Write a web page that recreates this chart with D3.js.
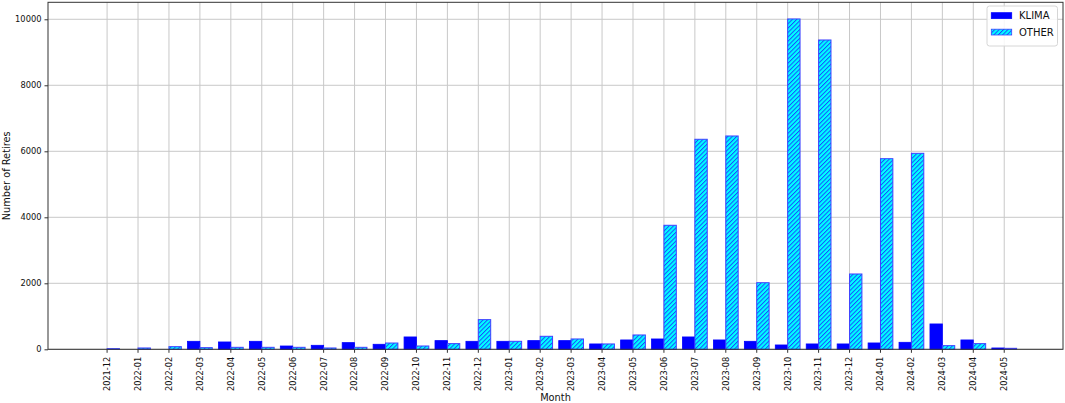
<!DOCTYPE html>
<html><head><meta charset="utf-8">
<script src="https://cdn.jsdelivr.net/npm/d3@7"></script>
<style>body{margin:0;background:#fff}svg{display:block;font-family:"DejaVu Sans",sans-serif}</style>
</head><body><svg id="c" width="1065" height="403"></svg>
<script>
const months = ["2021-12","2022-01","2022-02","2022-03","2022-04","2022-05","2022-06","2022-07","2022-08","2022-09","2022-10","2022-11","2022-12","2023-01","2023-02","2023-03","2023-04","2023-05","2023-06","2023-07","2023-08","2023-09","2023-10","2023-11","2023-12","2024-01","2024-02","2024-03","2024-04","2024-05"];
const klima = [0,0,0,242,222,242,100,121,202,152,374,263,242,242,263,263,162,283,313,374,283,242,131,162,162,192,212,768,283,40];
const other = [20,40,80,50,60,60,60,40,60,190,100,172,899,242,394,313,162,434,3758,6364,6464,2018,10010,9373,2282,5776,5939,111,172,30];
const yTicks = [0,2000,4000,6000,8000,10000];

const svg = d3.select("#c");
const L=48, R=1063, T=2.3, B=349.3;
const x = d3.scaleLinear().domain([-1.91, 30.9]).range([L, R]);
const y = d3.scaleLinear().domain([0, 10515]).range([B, T]);
const bw = x(0.4) - x(0);

const defs = svg.append("defs");
const P = 3.1;
const pat = defs.append("pattern").attr("id","hatch").attr("patternUnits","userSpaceOnUse")
  .attr("width",P).attr("height",P).attr("patternTransform","rotate(45)");
pat.append("rect").attr("width",P).attr("height",P).attr("fill","#00ffff");
pat.append("line").attr("x1",0.5).attr("y1",0).attr("x2",0.5).attr("y2",P).attr("stroke","#1a3cff").attr("stroke-width",0.9);

// grid
const g = svg.append("g");
g.selectAll(".gx").data(months).join("line")
  .attr("x1",(d,i)=>x(i)).attr("x2",(d,i)=>x(i)).attr("y1",T).attr("y2",B)
  .attr("stroke","#c8c8c8").attr("stroke-width",1);
g.selectAll(".gy").data(yTicks).join("line")
  .attr("x1",L).attr("x2",R).attr("y1",d=>y(d)).attr("y2",d=>y(d))
  .attr("stroke","#c8c8c8").attr("stroke-width",1);

// bars
svg.append("g").selectAll("rect").data(klima).join("rect")
  .attr("x",(d,i)=>x(i-0.4)).attr("width",bw)
  .attr("y",d=>y(d)).attr("height",d=>B-y(d))
  .attr("fill","#0000ff").attr("stroke","#0000ff").attr("stroke-width",0.8);
svg.append("g").selectAll("rect").data(other).join("rect")
  .attr("x",(d,i)=>x(i)).attr("width",bw)
  .attr("y",d=>y(d)).attr("height",d=>B-y(d))
  .attr("fill","url(#hatch)").attr("stroke","#4040ff").attr("stroke-width",1);

// frame
svg.append("rect").attr("x",L).attr("y",T).attr("width",R-L).attr("height",B-T)
  .attr("fill","none").attr("stroke","#333").attr("stroke-width",1);

// axes
const yAxis = d3.axisLeft(y).tickValues(yTicks).tickSize(3.5).tickPadding(3).tickFormat(d3.format("d"));
const ya = svg.append("g").attr("transform",`translate(${L},0)`).call(yAxis);
ya.select(".domain").remove();
ya.selectAll("text").attr("font-size",8.3).attr("fill","#111").attr("font-family","DejaVu Sans");
ya.selectAll("line").attr("stroke","#333");

const xb = d3.scaleBand().domain(months).range([x(-0.5), x(months.length-0.5)]);
const xAxis = d3.axisBottom(xb).tickSize(3.5).tickPadding(3);
const xa = svg.append("g").attr("transform",`translate(0,${B})`).call(xAxis);
xa.select(".domain").remove();
xa.selectAll("line").attr("stroke","#333");
xa.selectAll("text").attr("font-size",8.2).attr("fill","#111").attr("font-family","DejaVu Sans")
  .attr("transform","rotate(-90)").attr("text-anchor","end").attr("dy","0.35em").attr("dx",0).attr("y",0).attr("x",-7.5);

svg.append("text").attr("x",(L+R)/2).attr("y",401).attr("text-anchor","middle")
  .attr("font-size",9.8).attr("fill","#111").text("Month");
svg.append("text").attr("transform",`translate(10,${(T+B)/2}) rotate(-90)`).attr("text-anchor","middle")
  .attr("font-size",9.8).attr("fill","#111").text("Number of Retires");

// legend
const lg = svg.append("g").attr("transform","translate(987,6)");
lg.append("rect").attr("width",70.5).attr("height",40).attr("rx",2.5)
  .attr("fill","#fff").attr("fill-opacity",0.85).attr("stroke","#d6d6d6");
const items=[["KLIMA","#0000ff"],["OTHER","url(#hatch)"]];
items.forEach((it,i)=>{
  lg.append("rect").attr("x",4.3).attr("y",6.7+i*16.5).attr("width",20.4).attr("height",5.8)
    .attr("fill",it[1]).attr("stroke",i?"#4040ff":"#0000ff").attr("stroke-width",0.8);
  lg.append("text").attr("x",32).attr("y",13.2+i*16.3).attr("font-size",10).attr("fill","#111").text(it[0]);
});
</script></body></html>
